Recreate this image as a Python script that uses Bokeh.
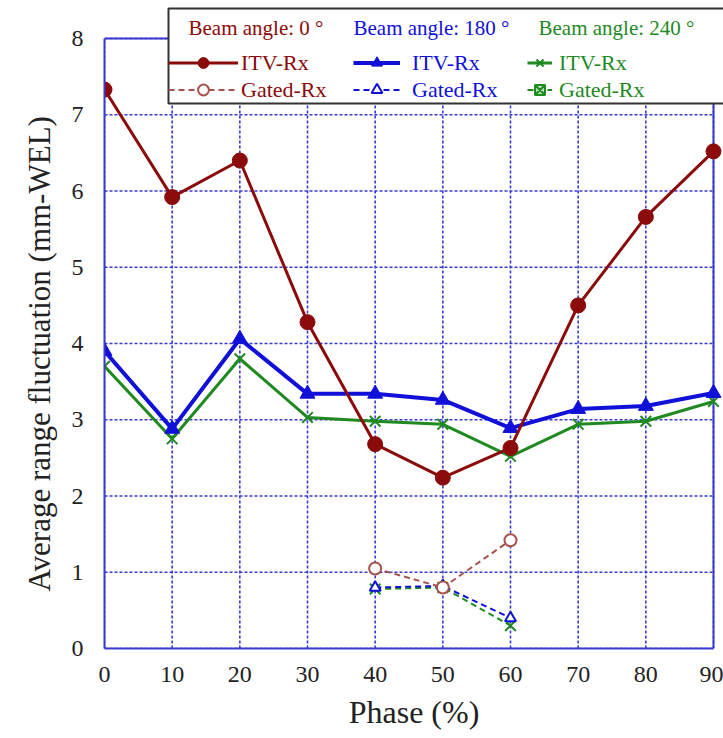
from bokeh.plotting import figure
from bokeh.models import Range1d, FixedTicker, Legend, LegendItem, Label, BoxAnnotation, ColumnDataSource, Title
from bokeh.embed import file_html
from bokeh.resources import INLINE

# ---- data ----
phase = [0, 10, 20, 30, 40, 50, 60, 70, 80, 90]
itv_0 = [7.33, 5.92, 6.40, 4.28, 2.68, 2.24, 2.63, 4.50, 5.66, 6.52]
itv_180 = [3.90, 2.88, 4.06, 3.34, 3.34, 3.26, 2.89, 3.14, 3.18, 3.35]
itv_240 = [3.70, 2.75, 3.80, 3.03, 2.98, 2.94, 2.52, 2.94, 2.98, 3.24]

gated_phase = [40, 50, 60]
gated_0 = [1.05, 0.80, 1.42]
gated_180 = [0.80, 0.82, 0.40]
gated_240 = [0.78, 0.80, 0.30]

x_ticks = [0, 10, 20, 30, 40, 50, 60, 70, 80, 90]
y_ticks = [0, 1, 2, 3, 4, 5, 6, 7, 8]

titles = ["Beam angle: 0 \u00b0", "Beam angle: 180 \u00b0", "Beam angle: 240 \u00b0"]
x_label = "Phase (%)"
y_label = "Average range fluctuation (mm-WEL)"

RED = "#8b0a0a"
RED_G = "#a8524c"
BLUE = "#1010d8"
GREEN = "#1f8a1f"
GRID = "#3a3ad0"
FONT = "Liberation Serif"

X0, X1 = x_ticks[0], x_ticks[-1]
Y0, Y1 = y_ticks[0], y_ticks[-1]

# frame spans page x 104..723 and y 6..648; data box 0..90 x 0..8 occupies 104..713 x 38..648
p = figure(width=723, height=738, output_backend="svg", toolbar_location=None,
           x_range=Range1d(X0, X1 * 619 / 609), y_range=Range1d(Y0, Y1 * 642 / 610),
           min_border_left=104, min_border_right=0, min_border_top=6, min_border_bottom=90)

p.outline_line_color = None
p.background_fill_color = "white"
p.xgrid.grid_line_color = None
p.ygrid.grid_line_color = None

for ax in (p.xaxis[0], p.yaxis[0]):
    ax.axis_line_color = GRID
    ax.axis_line_width = 2
    ax.major_tick_in = 0
    ax.major_tick_out = 0
    ax.minor_tick_line_color = None
    ax.major_label_text_font = FONT
    ax.major_label_text_font_size = "24px"
    ax.major_label_text_color = "#222222"
    ax.axis_label_text_font = FONT
    ax.axis_label_text_font_style = "normal"
    ax.axis_label_text_color = "#222222"

p.xaxis.ticker = FixedTicker(ticks=x_ticks)
p.yaxis.ticker = FixedTicker(ticks=y_ticks)
p.xaxis.bounds = (X0, X1)
p.yaxis.bounds = (Y0, Y1)
p.xaxis.major_label_standoff = 18
p.yaxis.major_label_standoff = 21
p.xaxis.axis_label = x_label
p.xaxis.axis_label_text_font_size = "32px"
p.xaxis.axis_label_standoff = 9

# y-axis title, placed along the 0..8 data box rather than the taller frame
p.add_layout(Title(text=y_label, align="left", offset=57, standoff=24,
                   text_font=FONT, text_font_size="31px", text_font_style="normal",
                   text_color="#222222"), "left")

# dotted grid restricted to the data box
p.segment(x0=[X0] * len(y_ticks), x1=[X1] * len(y_ticks), y0=y_ticks, y1=y_ticks,
          line_color=GRID, line_width=1.6, line_dash="3 2", level="underlay")
p.segment(x0=x_ticks, x1=x_ticks, y0=[Y0] * len(x_ticks), y1=[Y1] * len(x_ticks),
          line_color=GRID, line_width=1.6, line_dash="3 2", level="underlay")
# solid top / right border
p.segment(x0=[X0, X1], x1=[X1, X1], y0=[Y1, Y0], y1=[Y1, Y1],
          line_color=GRID, line_width=2, level="underlay")

src = ColumnDataSource(dict(x=phase, a=itv_0, b=itv_180, c=itv_240))
gsrc = ColumnDataSource(dict(x=gated_phase, a=gated_0, b=gated_180, c=gated_240))

# gated (dashed)
gl240 = p.line("x", "c", source=gsrc, line_color=GREEN, line_width=2, line_dash="6 4")
gs240 = p.scatter("x", "c", source=gsrc, marker="x", size=15, line_color=GREEN, line_width=2)
gl180 = p.line("x", "b", source=gsrc, line_color=BLUE, line_width=2, line_dash="6 4")
gs180 = p.scatter("x", "b", source=gsrc, marker="triangle", size=11, line_color=BLUE,
                  fill_color="white", line_width=2)
gl0 = p.line("x", "a", source=gsrc, line_color=RED_G, line_width=2, line_dash="6 4")
gs0 = p.scatter("x", "a", source=gsrc, marker="circle", size=12, line_color=RED_G,
                fill_color="white", line_width=2)

# ITV (solid)
l240 = p.line("x", "c", source=src, line_color=GREEN, line_width=3)
s240 = p.scatter("x", "c", source=src, marker="x", size=15, line_color=GREEN, line_width=2)
l180 = p.line("x", "b", source=src, line_color=BLUE, line_width=4)
s180 = p.scatter("x", "b", source=src, marker="triangle", size=15, line_color=BLUE,
                 fill_color=BLUE)
l0 = p.line("x", "a", source=src, line_color=RED, line_width=3)
s0 = p.scatter("x", "a", source=src, marker="circle", size=15, line_color=RED, fill_color=RED)

# legend-only glyph for gated 240 (square with x); holds no visible point
nan_src = ColumnDataSource(dict(x=[float("nan")], y=[float("nan")]))
lg240 = p.scatter("x", "y", source=nan_src, marker="square_x", size=14, line_color=GREEN,
                  fill_color="#b8e0b8", line_width=2)

# enclosing legend box (screen units relative to frame bottom-left)
box = BoxAnnotation(left=64, right=760, bottom=545, top=640,
                    left_units="screen", right_units="screen",
                    bottom_units="screen", top_units="screen",
                    fill_color="white", fill_alpha=1.0,
                    line_color="#333333", line_width=2, line_alpha=1.0)
p.add_layout(box)


def mk_legend(items, x, glyph_w, standoff, color):
    lg = Legend(items=items, location=(x, 545), orientation="vertical",
                glyph_width=glyph_w, glyph_height=27, label_height=27,
                label_standoff=standoff, spacing=0, padding=0, margin=0,
                border_line_alpha=0, background_fill_alpha=0,
                label_text_font=FONT, label_text_font_size="22px",
                label_text_color=color)
    p.add_layout(lg)


mk_legend([LegendItem(label="ITV-Rx", renderers=[l0, s0]),
           LegendItem(label="Gated-Rx", renderers=[gl0, gs0])], 64, 70, 3, RED)
mk_legend([LegendItem(label="ITV-Rx", renderers=[l180, s180]),
           LegendItem(label="Gated-Rx", renderers=[gl180, gs180])], 249, 47, 12, BLUE)
mk_legend([LegendItem(label="ITV-Rx", renderers=[l240, s240]),
           LegendItem(label="Gated-Rx", renderers=[gl240, lg240])], 423, 25, 7, GREEN)

for t, xx, c in zip(titles, [84, 249, 434], [RED, BLUE, GREEN]):
    p.add_layout(Label(x=xx, y=621, x_units="screen", y_units="screen", text=t,
                       text_font=FONT, text_font_size="21px", text_color=c,
                       text_baseline="middle"))

open("out.html", "w").write(file_html(p, INLINE))
